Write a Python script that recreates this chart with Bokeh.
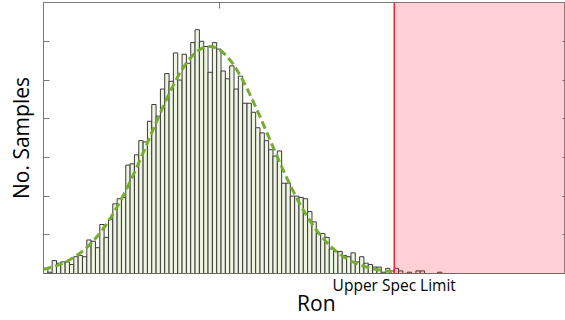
import numpy as np
from bokeh.plotting import figure
from bokeh.models import (Range1d, LinearAxis, FixedTicker, CustomJSTickFormatter,
                          BoxAnnotation, Span)
from bokeh.embed import file_html
from bokeh.resources import INLINE

# ---- data ----
# histogram counts per bin (bin index 0..)
counts = [4, 1, 10, 8, 9, 9, 7, 13, 14, 13,
          26, 25, 20, 38, 28, 42, 54, 58, 59, 84,
          85, 92, 103, 102, 118, 131, 122, 143, 155, 149,
          171, 150, 170, 163, 179, 189, 180, 176, 156, 179,
          174, 157, 151, 161, 143, 153, 132, 132, 125, 113,
          109, 103, 96, 91, 95, 70, 70, 60, 60, 59,
          58, 48, 40, 31, 31, 28, 19, 17, 17, 14,
          13, 16, 9, 13, 8, 7, 5, 5, 1, 4,
          2, 4, 2, 0, 1, 0, 2, 2, 0, 0,
          0, 1]
# normal fit parameters (in bin units / counts)
fit_mean = 38.3
fit_sigma = 13.6
fit_peak = 176
fit_end = 80.5
spec_limit = 81          # upper spec limit (bin units)
y_ticks = [30, 60, 90, 120, 150, 180]
x_ticks = [40.6]
x_label = "Ron"
x_label_pos = 63.0
y_label = "No. Samples"
spec_label = "Upper Spec Limit"

W, H = 565, 320
p = figure(width=W, height=H, output_backend="svg", toolbar_location=None,
           x_range=Range1d(0, 120.55), y_range=Range1d(0, 210.1),
           x_axis_location=None, y_axis_location=None,
           min_border_left=43, min_border_right=0, min_border_top=2, min_border_bottom=47)
p.xgrid.visible = False
p.ygrid.visible = False
p.outline_line_color = "#8a8a8a"
p.outline_line_width = 1
p.background_fill_color = "white"
p.border_fill_color = "white"

blank = CustomJSTickFormatter(code="return ''")


def mk_axis(ticks, tick_len=6):
    return LinearAxis(ticker=FixedTicker(ticks=ticks), formatter=blank,
                      major_tick_in=tick_len, major_tick_out=0,
                      minor_tick_in=0, minor_tick_out=0,
                      major_label_standoff=0, major_label_text_font_size="0px",
                      axis_line_color="#7a7a7a", major_tick_line_color="#7a7a7a")


def text_axis(pos, label, size, standoff):
    return LinearAxis(ticker=FixedTicker(ticks=[pos]),
                      major_label_overrides={pos: label},
                      major_tick_in=0, major_tick_out=0,
                      minor_tick_in=0, minor_tick_out=0,
                      major_label_standoff=standoff,
                      major_label_text_font="Open Sans",
                      major_label_text_font_size=size,
                      major_label_text_color="black",
                      axis_line_color=None, major_tick_line_color=None)


# bottom: axis line + spec label, then the axis title
spec_axis = text_axis(spec_limit, spec_label, "15.5px", 0)
spec_axis.axis_line_color = "#6a6a6a"
p.add_layout(spec_axis, "below")
p.add_layout(text_axis(x_label_pos, x_label, "21px", -10), "below")
p.add_layout(mk_axis(x_ticks), "above")

left_axis = mk_axis(y_ticks)
left_axis.axis_label = y_label
left_axis.axis_label_text_font = "Open Sans"
left_axis.axis_label_text_font_size = "21px"
left_axis.axis_label_text_font_style = "normal"
left_axis.axis_label_text_color = "black"
left_axis.axis_label_standoff = 9
p.add_layout(left_axis, "left")
p.add_layout(mk_axis(y_ticks, 3), "right")

bins = np.arange(len(counts))
p.quad(left=bins, right=bins + 1, bottom=0, top=counts,
       fill_color="#eef6e2", line_color="#3a3a3a", line_width=1)

xs = np.linspace(0, fit_end, 200)
ys = fit_peak * np.exp(-0.5 * ((xs - fit_mean) / fit_sigma) ** 2)
p.line(xs, ys, line_color="#77ac30", line_width=3, line_dash="8 4")

p.add_layout(BoxAnnotation(left=spec_limit, fill_color=(255, 0, 25), fill_alpha=0.18,
                           line_color=None))
p.add_layout(Span(location=spec_limit, dimension="height", line_color="#ff2030",
                  line_width=1.5))

open("out.html", "w").write(file_html(p, INLINE))
